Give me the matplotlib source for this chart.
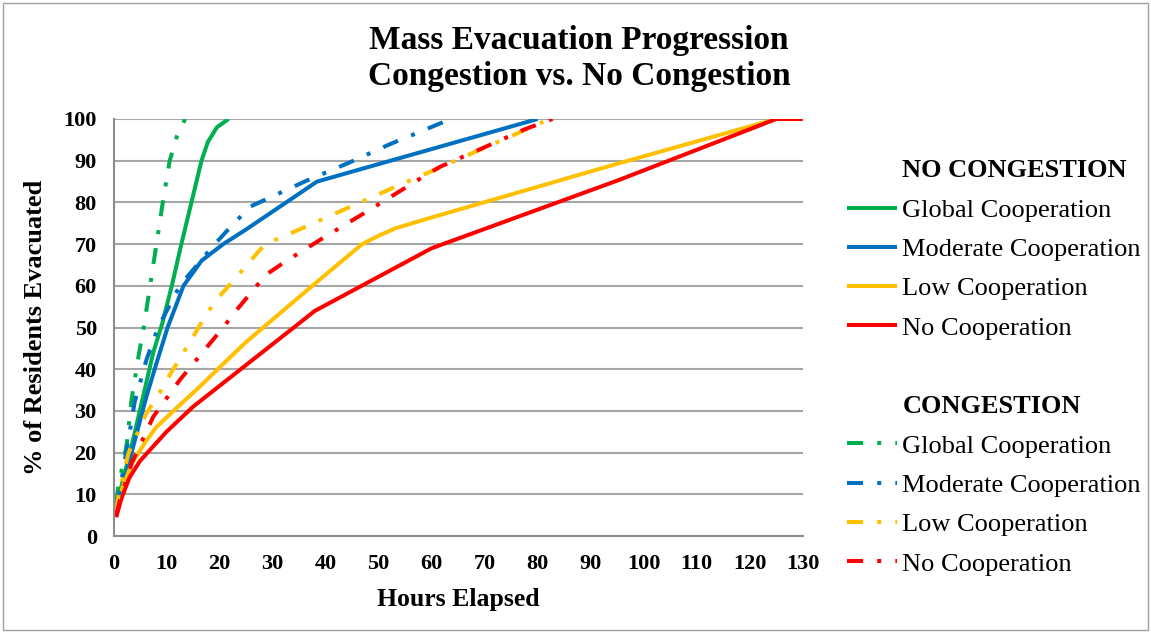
import matplotlib.pyplot as plt
from matplotlib.lines import Line2D
from matplotlib.patches import Rectangle

plt.rcParams['font.family'] = ['Liberation Serif', 'DejaVu Serif']

# ---- no congestion (solid lines) ----
glob_nc_h = [0.5, 1.5, 3.4, 5.5, 7.5, 9.2, 11, 12.8, 14.7, 16.6, 17.8, 19.5, 21.7]
glob_nc_p = [6, 12, 21.5, 33, 44, 51, 60, 70, 80, 90, 94.5, 98, 100]

mod_nc_h = [0.5, 1.2, 3.7, 6.2, 8.1, 10.2, 13.2, 16.6, 20.7, 25, 38.4, 80]
mod_nc_p = [6, 8.6, 21.4, 33.4, 41.4, 50, 60, 66, 70, 73.5, 85, 100]

low_nc_h = [0.5, 1.5, 3.5, 6, 8, 11.3, 16, 21.7, 25, 37.5, 46.9, 50, 53.2, 59.5, 95.4, 125]
low_nc_p = [6.5, 11, 17.5, 22.5, 26, 30, 35.5, 42.5, 46.5, 60, 70, 72, 73.8, 76.2, 89.4, 100]

none_nc_h = [0.5, 1.5, 3, 5, 7.5, 10, 15, 20, 25, 30, 38, 60, 95.4, 125, 130]
none_nc_p = [4.5, 9, 14, 18, 21.5, 25, 31, 36, 41, 46, 54, 69, 85.4, 100, 100]

# ---- congestion (dash-dot lines) ----
glob_c_h = [0.5, 0.9, 2.5, 3.4, 4.7, 5.7, 6.9, 8.1, 9.3, 10.6, 12, 13.5]
glob_c_p = [8, 11.8, 22, 32.6, 43, 50, 60, 70, 80, 90, 96, 100]

mod_c_h = [0.5, 1.2, 2.8, 4, 6.2, 8.4, 12.5, 16.3, 19.1, 22, 25.8, 36.4, 44.4, 52.2, 57, 63.6]
mod_c_p = [7, 11, 23, 32.2, 42.2, 50, 60, 65.8, 70, 74, 79, 85.2, 89.5, 94, 96.5, 100]

low_c_h = [0.5, 0.9, 2.8, 6.2, 8.8, 10.6, 15.4, 17.6, 20, 23, 28.5, 36.5, 44.4, 52.2, 60.2, 68, 75.9, 82.2]
low_c_p = [6, 9.4, 19.8, 29.4, 34.6, 38.6, 48.6, 53.4, 57.5, 61.8, 69.9, 74.3, 78.8, 83.2, 87.6, 92, 96.4, 100]

none_c_h = [0.5, 1.2, 3.4, 7.5, 12.5, 18.2, 20.7, 22.7, 26.1, 28.7, 32.4, 39.7, 47, 54.4, 59.5, 61.7, 69.6, 77.5, 82.8]
none_c_p = [5, 8.6, 17.4, 28.6, 37.4, 46.2, 50, 53.4, 58.6, 62.6, 65.8, 71.6, 77.2, 83, 87, 88.6, 93, 97.5, 100]

labels = ['Global Cooperation', 'Moderate Cooperation', 'Low Cooperation', 'No Cooperation']
colors = ['#00B050', '#0070C0', '#FFC000', '#FF0000']
no_cong = [(glob_nc_h, glob_nc_p), (mod_nc_h, mod_nc_p), (low_nc_h, low_nc_p), (none_nc_h, none_nc_p)]
cong = [(glob_c_h, glob_c_p), (mod_c_h, mod_c_p), (low_c_h, low_c_p), (none_c_h, none_c_p)]

lw = 2.9
dashdot = (0, (4, 3.5, 1, 3.5))
grey = '#8C8C8C'

fig = plt.figure(figsize=(11.51, 6.33), dpi=100)
ax = fig.add_axes([113.5 / 1151, 97 / 633, (802.7 - 113.5) / 1151, 417 / 633])

nc_lines = []
for (h, p), c in zip(no_cong, colors):
    ln, = ax.plot(h, p, color=c, lw=lw, solid_capstyle='butt')
    nc_lines.append(ln)
c_lines = []
for (h, p), c in zip(cong, colors):
    ln, = ax.plot(h, p, color=c, lw=lw, linestyle=dashdot)
    c_lines.append(ln)

ax.set_xlim(0, 130)
ax.set_ylim(0, 100)
ax.set_xticks(range(0, 131, 10))
ax.set_yticks(range(0, 101, 10))
ax.yaxis.grid(True, color='#A6A6A6', lw=1.5)
ax.set_axisbelow(True)
ax.tick_params(length=0, labelsize=16)
ax.tick_params(axis='y', pad=12)
ax.tick_params(axis='x', pad=13)
for t in ax.get_xticklabels() + ax.get_yticklabels():
    t.set_fontweight('bold')
for s in ['top', 'right']:
    ax.spines[s].set_visible(False)
for s in ['left', 'bottom']:
    ax.spines[s].set_color(grey)
    ax.spines[s].set_linewidth(1.5)

ax.set_xlabel('Hours Elapsed', fontsize=18.5, fontweight='bold', labelpad=10)
ax.set_ylabel('% of Residents Evacuated', fontsize=19, fontweight='bold', labelpad=12)

fig.text(0.503, 1 - 40 / 633, 'Mass Evacuation Progression', ha='center', va='center',
         fontsize=24, fontweight='bold')
fig.text(0.503, 1 - 77 / 633, 'Congestion vs. No Congestion', ha='center', va='center',
         fontsize=24, fontweight='bold')

blank = Line2D([], [], color='none')
handles = [blank] + nc_lines + [blank, blank] + c_lines
names = ['NO CONGESTION'] + labels + [' ', 'CONGESTION'] + labels
leg = fig.legend(handles, names, loc='upper left', bbox_to_anchor=(847 / 1151, 1 - 159 / 633),
                 frameon=False, fontsize=19, handlelength=1.9, handletextpad=0.2,
                 labelspacing=0.6, borderpad=0, borderaxespad=0)
for t in leg.get_texts():
    if t.get_text().endswith('CONGESTION'):
        t.set_fontweight('bold')

fig.patches.append(Rectangle((0.003, 0.004), 0.994, 0.992, transform=fig.transFigure,
                             fill=False, edgecolor='#A0A0A0', lw=1))

fig.savefig('out.png', dpi=100)
